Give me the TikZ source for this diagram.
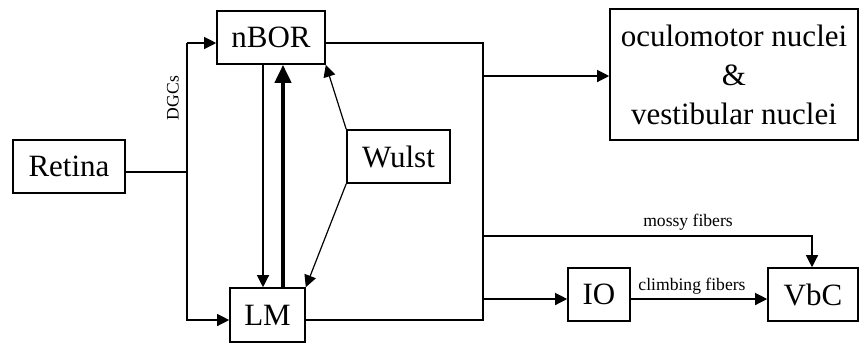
\documentclass[tikz,border=0pt]{standalone}
\usepackage{fontspec}
\setmainfont{Liberation Serif}
\usetikzlibrary{arrows.meta,positioning}
\tikzset{
  blk/.style={rectangle,draw=black,line width=0.8pt,inner sep=0pt,
              font=\fontsize{15.5}{19.5}\selectfont,align=center},
  arr/.style={-{Triangle[length=6pt,width=6pt]},line width=0.6pt,#1},
  arr/.default=black,
  wire/.style={line width=0.6pt},
  lbl/.style={font=\fontsize{8.8}{10}\selectfont,inner sep=0pt},
}

\begin{document}
\begin{tikzpicture}[x=0.5pt,y=-0.5pt]
  \useasboundingbox (0,0) rectangle (860,344);

  %% Blocks
  \node[blk,minimum width=56pt,minimum height=26.5pt]   (retina) at (69,166.5)  {Retina};
  \node[blk,minimum width=54pt,minimum height=26.5pt]   (nbor)   at (271,37.5)  {nBOR};
  \node[blk,minimum width=37.5pt,minimum height=27pt]   (lm)     at (267.5,315) {LM};
  \node[blk,minimum width=51.5pt,minimum height=26.5pt] (wulst)  at (398.5,156.5) {Wulst};
  \node[blk,minimum width=124pt,minimum height=65.5pt]  (ocul)   at (734,74.5)  {oculomotor nuclei\\\&\\vestibular nuclei};
  \node[blk,minimum width=31pt,minimum height=26.5pt]   (io)     at (599,294.5) {IO};
  \node[blk,minimum width=45pt,minimum height=26.5pt]   (vbc)    at (813,294.5) {VbC};

  %% Junction points
  \coordinate (dgcT) at (187,43);
  \coordinate (dgcM) at (187,172);
  \coordinate (dgcB) at (187,320);
  \coordinate (outT) at (483,43);
  \coordinate (outO) at (483,76);
  \coordinate (outM) at (483,236);
  \coordinate (outI) at (483,299);
  \coordinate (outB) at (483,320);
  \coordinate (mosC) at (812,236);

  %% Retina -> nBOR / LM (DGCs)
  \draw[wire] (retina.east |- dgcM) -- (dgcM);
  \draw[arr] (dgcT) -- (nbor.west |- dgcT);
  \draw[arr] (dgcT) -- (dgcB) -- (lm.west |- dgcB);
  \node[lbl,rotate=90] (dgc) at (173,98) {DGCs};

  %% nBOR <-> LM
  \draw[arr] (263,0 |- nbor.south) -- (263,0 |- lm.north);
  \draw[-{Triangle[length=9pt,width=8pt]},line width=2pt]
    (283,0 |- lm.north) -- (283,0 |- nbor.south);

  %% Wulst
  \draw[arr] (wulst.north west) -- (nbor.south east);
  \draw[arr] (wulst.south west) -- (lm.north east);

  %% Outputs
  \draw[wire] (nbor.east |- outT) -- (outT) -- (outB) -- (lm.east |- outB);
  \draw[arr] (outO) -- (ocul.west |- outO);
  \draw[arr] (outM) -- (mosC) -- (vbc.north -| mosC);
  \node[lbl] (mossy) at (688,222) {mossy fibers};
  \draw[arr] (outI) -- (io.west |- outI);
  \draw[arr] (io.east |- outI) -- (vbc.west |- outI);
  \node[lbl] (climb) at (692,286) {climbing fibers};
\end{tikzpicture}
\end{document}
